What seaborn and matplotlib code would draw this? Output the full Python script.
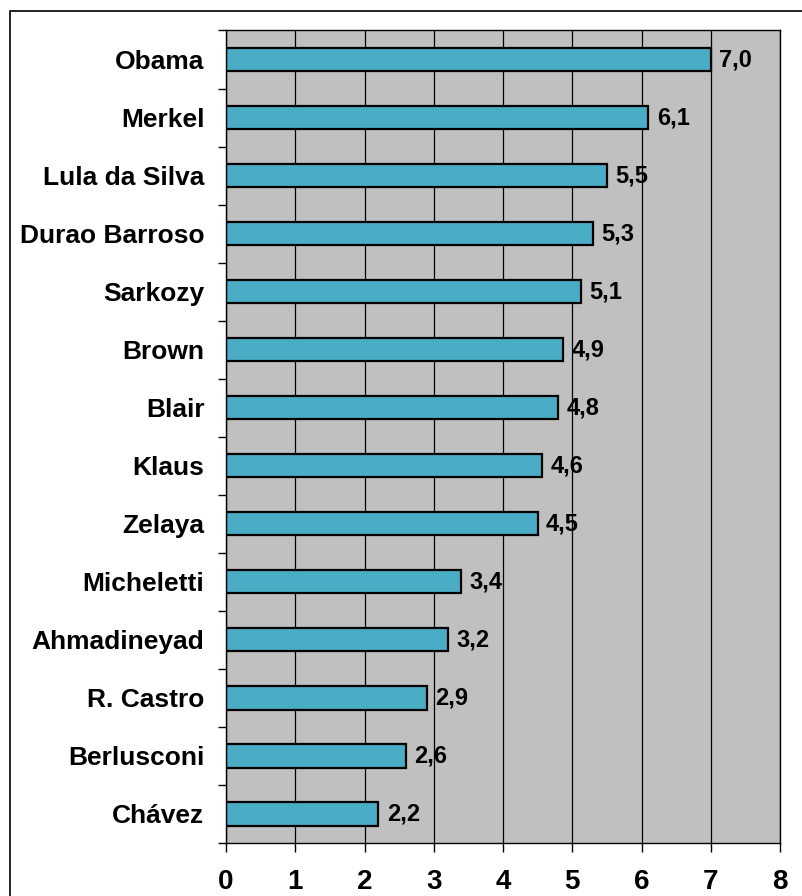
import numpy as np
import matplotlib
matplotlib.use("Agg")
import matplotlib.pyplot as plt
import seaborn as sns
from matplotlib.patches import Rectangle

names = ["Obama", "Merkel", "Lula da Silva", "Durao Barroso", "Sarkozy", "Brown",
         "Blair", "Klaus", "Zelaya", "Micheletti", "Ahmadineyad", "R. Castro",
         "Berlusconi", "Chávez"]
values = [7.0, 6.1, 5.5, 5.3, 5.13, 4.87, 4.8, 4.57, 4.5, 3.4, 3.2, 2.9, 2.6, 2.2]
xticks = list(range(0, 9))

sns.set_style("white")
plt.rcParams["font.family"] = ["Liberation Sans", "DejaVu Sans"]
plt.rcParams["font.weight"] = "bold"
plt.rcParams["text.color"] = "black"
plt.rcParams["xtick.color"] = "black"
plt.rcParams["ytick.color"] = "black"

fig = plt.figure(figsize=(8.02, 8.96), dpi=100)
ax = fig.add_axes([226 / 802, 1 - 843 / 896, (780 - 226) / 802, (843 - 30.5) / 896])
ax.set_facecolor("#C0C0C0")

sns.barplot(x=values, y=names, orient="h", color="#4BACC6", saturation=1,
            edgecolor="black", linewidth=1.6, width=0.4, ax=ax)

ax.set_xlim(0, 8)
ax.set_ylim(len(names) - 0.5, -0.5)
ax.set_xticks(xticks)
ax.set_xticklabels([str(t) for t in xticks], fontsize=20, fontweight="bold")
ax.tick_params(axis="x", bottom=True, length=6.5, width=1, colors="black", pad=12.5, direction="out")
ax.tick_params(axis="y", which="major", left=False, length=0, pad=15.5, labelsize=19, labelcolor="black")
for lab in ax.get_yticklabels():
    lab.set_fontweight("bold")
ax.set_yticks(np.arange(-0.5, len(names), 1.0), minor=True)
ax.tick_params(axis="y", which="minor", left=True, length=6, width=1, color="black", direction="out")

ax.set_axisbelow(True)
ax.grid(axis="x", color="black", linewidth=0.9)
ax.grid(axis="y", visible=False)
for s in ax.spines.values():
    s.set_visible(True)
    s.set_color("black")
    s.set_linewidth(1)
ax.set_xlabel("")
ax.set_ylabel("")

for i, v in enumerate(values):
    ax.annotate(f"{v:.1f}".replace(".", ","), xy=(v, i), xytext=(6, 0),
                textcoords="offset points", va="center", ha="left",
                fontsize=17, fontweight="bold", color="black")

fig.patches.append(Rectangle((10 / 802, -0.1), 1.2, 1 - 11 / 896 + 0.1,
                             transform=fig.transFigure, fill=False,
                             edgecolor="black", linewidth=1.2))

fig.savefig("out.png", dpi=100, facecolor="white")
